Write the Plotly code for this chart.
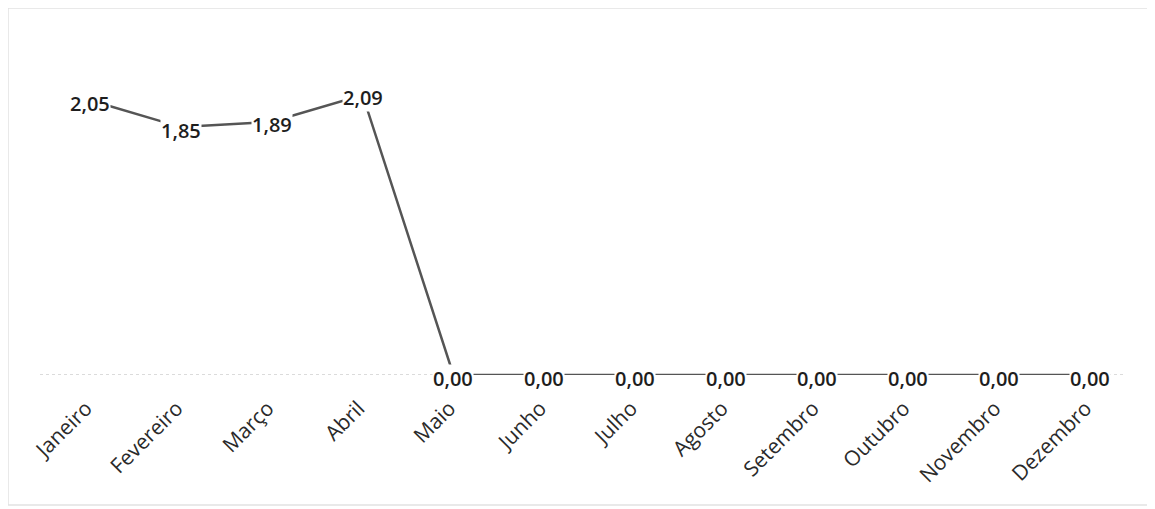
import plotly.graph_objects as go

# monthly values (scanned Excel line chart)
meses = ['Janeiro', 'Fevereiro', 'Março', 'Abril', 'Maio', 'Junho',
         'Julho', 'Agosto', 'Setembro', 'Outubro', 'Novembro', 'Dezembro']
valores = [2.05, 1.85, 1.89, 2.09, 0.00, 0.00, 0.00, 0.00, 0.00, 0.00, 0.00, 0.00]
rotulos = [f'{v:.2f}'.replace('.', ',') for v in valores]

fig = go.Figure()

fig.add_trace(go.Scatter(x=meses,
                         y=valores,
                         mode='lines',
                         line=dict(width=2.5, color='#555555'),
                         showlegend=False,
                         hoverinfo='skip'))

# data labels with white background over the line, like Excel
for m, v, t in zip(meses, valores, rotulos):
    fig.add_annotation(x=m, y=v, text=t, showarrow=False,
                       xanchor='center', yanchor='middle', yshift=-3,
                       bgcolor='white', borderpad=0,
                       font=dict(family='Open Sans', size=20, color='#1e1e1e', weight=600))

fig.update_layout(
    width=1155, height=509,
    margin=dict(l=32, r=38, t=32, b=142, autoexpand=False),
    paper_bgcolor='white',
    plot_bgcolor='white',
    font=dict(family='Open Sans', size=21, color='#2a2a2a'),
    xaxis=dict(type='category', range=[-0.55, 11.39], tickangle=-45,
               showgrid=False, zeroline=False, showline=False, ticks='',
               ticklabelstandoff=16, ticklabelshift=-4,
               automargin=False, tickfont=dict(size=21)),
    yaxis=dict(range=[0, 2.5], showticklabels=False, showgrid=False,
               zeroline=False, showline=False, automargin=False),
    shapes=[dict(type='line', xref='paper', yref='y', x0=0, x1=1, y0=0, y1=0,
                 line=dict(color='#cfcfcf', width=1.5, dash='dot'), layer='below'),
            dict(type='rect', xref='paper', yref='paper',
                 x0=-0.0295, x1=1.0212, y0=-0.388, y1=1.0955,
                 line=dict(color='#e2e2e2', width=1.5), fillcolor='rgba(0,0,0,0)',
                 layer='below')]
)

fig.write_html('out.html')
